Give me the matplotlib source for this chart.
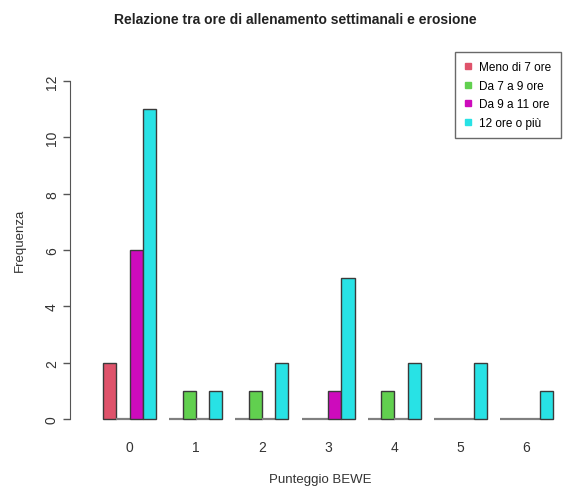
import numpy as np
import matplotlib.pyplot as plt
from matplotlib.lines import Line2D

plt.rcParams["font.family"] = ["Liberation Sans", "DejaVu Sans"]

# Data
scores = ["0", "1", "2", "3", "4", "5", "6"]
series_names = ["Meno di 7 ore", "Da 7 a 9 ore", "Da 9 a 11 ore", "12 ore o più"]
meno_7 = [2, 0, 0, 0, 0, 0, 0]
da_7_9 = [0, 1, 1, 0, 1, 0, 0]
da_9_11 = [6, 0, 0, 1, 0, 0, 0]
ore_12 = [11, 1, 2, 5, 2, 2, 1]
colors = ["#DF536B", "#61D04F", "#CD0BBC", "#28E2E5"]

W, H = 569, 489
fig = plt.figure(figsize=(W / 100, H / 100), dpi=100)
# axes placed in pixel terms: y 0..12 -> 420..82 px, left spine at 70 px
ax = fig.add_axes([70 / W, (H - 420) / H, (565 - 70) / W, (420 - 82) / H])

all_series = [meno_7, da_7_9, da_9_11, ore_12]
n_groups = len(scores)
group_x = np.arange(n_groups) * 5 + 1  # R barplot beside=TRUE layout
for j, vals in enumerate(all_series):
    bars = ax.bar(group_x + j, vals, width=1, align="edge", color=colors[j],
                  edgecolor="#3a3a3a", linewidth=1.0, label=series_names[j])
    for b, v in zip(bars, vals):
        b.set_clip_on(False)
        if v == 0:
            b.set_edgecolor("#808080")
            b.set_linewidth(1.6)

ax.set_xlim(-1.5, 35.9)
ax.set_ylim(0, 12)
ax.set_yticks(np.arange(0, 13, 2))
ax.set_xticks(group_x + 2)
ax.set_xticklabels(scores)
ax.tick_params(axis="x", length=0, pad=15, labelsize=10, colors="#333333")
ax.tick_params(axis="y", length=5, width=1, color="#555555", labelsize=10,
               labelcolor="#333333", pad=3)
for lab in ax.get_yticklabels():
    lab.set_rotation(90)
    lab.set_va("center")

for s in ["top", "right", "bottom"]:
    ax.spines[s].set_visible(False)
ax.spines["left"].set_color("#555555")
ax.spines["left"].set_bounds(0, 12)

fig.text(295 / W, 1 - 20 / H, "Relazione tra ore di allenamento settimanali e erosione",
         ha="center", va="center", fontsize=10, fontweight="bold", color="#222222")
fig.text(320 / W, 1 - 480 / H, "Punteggio BEWE", ha="center", va="center",
         fontsize=9.5, color="#333333")
fig.text(20 / W, 1 - 240 / H, "Frequenza", ha="center", va="center",
         rotation=90, fontsize=9.5, color="#333333")

handles = [Line2D([], [], marker="s", linestyle="none", markersize=4.5,
                  markerfacecolor=c, markeredgecolor=c) for c in colors]
leg = fig.legend(handles, series_names, loc="upper right",
                 bbox_to_anchor=(561 / W, 1 - 53 / H), fontsize=8.5,
                 frameon=True, fancybox=False, handlelength=0.7,
                 handletextpad=0.6, borderpad=0.8, labelspacing=0.55,
                 borderaxespad=0)
leg.get_frame().set_edgecolor("#444444")
leg.get_frame().set_linewidth(1.0)

fig.savefig("out.png", dpi=100)
